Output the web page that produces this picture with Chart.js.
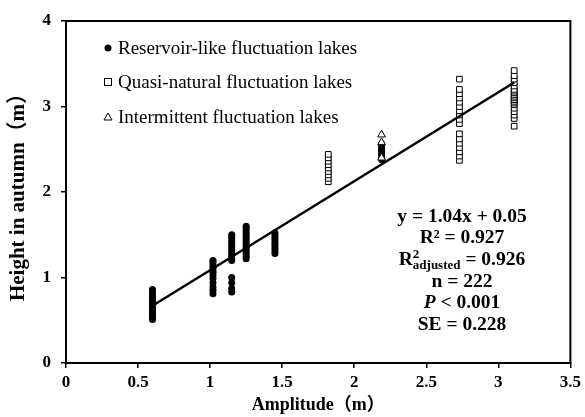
<!DOCTYPE html>
<html>
<head>
<meta charset="utf-8">
<script src="https://cdn.jsdelivr.net/npm/chart.js@4.4.1/dist/chart.umd.min.js"></script>
<style>
  html, body { margin: 0; padding: 0; background: #fff; }
  #wrap { width: 585px; height: 417px; }
</style>
</head>
<body>
<div id="wrap"><canvas id="chart"></canvas></div>
<script>
// Reservoir-like lakes: amplitude groups and heights
const reservoirAmplitude = [0.6, 1.02, 1.15, 1.25, 1.45, 2.19];
const reservoirHeight = [
  [0.51, 0.53, 0.55, 0.57, 0.59, 0.61, 0.63, 0.65, 0.68, 0.71, 0.74, 0.77, 0.8, 0.83, 0.86],
  [0.81, 0.85, 0.89, 0.94, 0.99, 1.03, 1.06, 1.09, 1.12, 1.15, 1.18, 1.2],
  [0.83, 0.87, 0.94, 1.0, 1.2, 1.23, 1.26, 1.29, 1.32, 1.35, 1.38, 1.41, 1.44, 1.47, 1.5],
  [1.22, 1.25, 1.28, 1.31, 1.34, 1.37, 1.4, 1.43, 1.46, 1.49, 1.52, 1.55, 1.58, 1.6],
  [1.28, 1.31, 1.34, 1.37, 1.4, 1.43, 1.46, 1.49, 1.52],
  [2.38, 2.41, 2.44, 2.47, 2.5, 2.53, 2.56]
];

// Quasi-natural lakes
const quasiAmplitude = [1.82, 2.73, 3.11];
const quasiHeight = [
  [2.12, 2.16, 2.2, 2.24, 2.28, 2.32, 2.36, 2.4, 2.44],
  [2.37, 2.42, 2.47, 2.52, 2.57, 2.62, 2.68, 2.8, 2.85, 2.9, 2.95, 3.0, 3.05, 3.1, 3.15, 3.2, 3.32],
  [2.77, 2.86, 2.9, 2.94, 2.98, 3.02, 3.04, 3.06, 3.08, 3.1, 3.12, 3.14, 3.16, 3.18, 3.2, 3.24, 3.28, 3.32, 3.36, 3.42]
];

// Intermittent lakes
const intermittentAmplitude = [2.19];
const intermittentHeight = [[2.4, 2.58, 2.67]];

// Fitted line end points (y = 1.04x + 0.05 over the data range)
const fitX = [0.6, 3.11];
const fitY = [0.67, 3.28];

const xTicks = [0, 0.5, 1, 1.5, 2, 2.5, 3, 3.5];
const yTicks = [0, 1, 2, 3, 4];

const seriesNames = [
  "Reservoir-like fluctuation lakes",
  "Quasi-natural fluctuation lakes",
  "Intermittent fluctuation lakes"
];

const statLines = ["y = 1.04x + 0.05", "R² = 0.927", "adjusted", "n = 222", "P", "SE = 0.228"];

const SERIF = '"Liberation Serif", "Times New Roman", "Noto Sans CJK SC", serif';

function toPoints(xs, ys) {
  const pts = [];
  xs.forEach((x, i) => ys[i].forEach(y => pts.push({ x: x, y: y })));
  return pts;
}

// draws the in-plot legend and the statistics block
const overlayPlugin = {
  id: "overlay",
  afterDraw(chart) {
    const ctx = chart.ctx;
    const area = chart.chartArea;
    ctx.save();

    // frame on top and right
    ctx.strokeStyle = "#000";
    ctx.lineWidth = 2;
    ctx.beginPath();
    ctx.moveTo(area.left, area.top);
    ctx.lineTo(area.right, area.top);
    ctx.lineTo(area.right, area.bottom);
    ctx.stroke();

    // legend
    const rows = [27, 61, 96];
    const mx = area.left + 42;
    ctx.font = "19px " + SERIF;
    ctx.textBaseline = "middle";
    ctx.fillStyle = "#000";
    ctx.lineWidth = 1;
    rows.forEach((dy, i) => {
      const y = area.top + dy;
      ctx.beginPath();
      if (i === 0) {
        ctx.arc(mx, y, 3.5, 0, Math.PI * 2);
        ctx.fill();
      } else if (i === 1) {
        ctx.strokeRect(mx - 3.5, y - 3.5, 7, 7);
      } else {
        ctx.moveTo(mx, y - 4);
        ctx.lineTo(mx + 4, y + 3);
        ctx.lineTo(mx - 4, y + 3);
        ctx.closePath();
        ctx.stroke();
      }
      ctx.textAlign = "left";
      ctx.fillText(seriesNames[i], mx + 10, y + 1);
    });

    // statistics
    const cx = area.left + 396;
    const lineY = [196, 217, 239, 261, 282, 304].map(d => area.top + d);
    const bold = "bold 19.5px " + SERIF;
    ctx.font = bold;
    ctx.textAlign = "center";
    ctx.fillText(statLines[0], cx, lineY[0]);
    ctx.fillText(statLines[1], cx, lineY[1]);
    ctx.fillText(statLines[3], cx, lineY[3]);
    ctx.fillText(statLines[5], cx, lineY[5]);

    // R²adjusted = 0.926
    ctx.textAlign = "left";
    const small = "bold 13px " + SERIF;
    ctx.font = bold;
    const wR = ctx.measureText("R").width;
    const wTail = ctx.measureText(" = 0.926").width;
    ctx.font = small;
    const wSup = ctx.measureText("2").width;
    const wSub = ctx.measureText(statLines[2]).width;
    let x = cx - (wR + wSub + wTail) / 2;
    const y2 = lineY[2];
    ctx.font = bold;
    ctx.fillText("R", x, y2);
    ctx.font = small;
    ctx.fillText("2", x + wR, y2 - 5);
    ctx.fillText(statLines[2], x + wR, y2 + 6);
    ctx.font = bold;
    ctx.fillText(" = 0.926", x + wR + Math.max(wSup, wSub), y2);

    // P < 0.001
    const ital = "italic bold 19.5px " + SERIF;
    ctx.font = ital;
    const wP = ctx.measureText("P").width;
    ctx.font = bold;
    const wRest = ctx.measureText(" < 0.001").width;
    x = cx - (wP + wRest) / 2;
    ctx.font = ital;
    ctx.fillText("P", x, lineY[4]);
    ctx.font = bold;
    ctx.fillText(" < 0.001", x + wP, lineY[4]);

    ctx.restore();
  }
};

new Chart(document.getElementById("chart"), {
  type: "scatter",
  data: {
    datasets: [
      {
        type: "line",
        label: "fit",
        data: fitX.map((x, i) => ({ x: x, y: fitY[i] })),
        borderColor: "#000",
        borderWidth: 2.5,
        pointRadius: 0,
        fill: false,
        order: 0
      },
      {
        label: seriesNames[0],
        data: toPoints(reservoirAmplitude, reservoirHeight),
        pointStyle: "circle",
        pointRadius: 3.5,
        backgroundColor: "#000",
        borderColor: "#000",
        borderWidth: 0,
        order: 2
      },
      {
        label: seriesNames[1],
        data: toPoints(quasiAmplitude, quasiHeight),
        pointStyle: "rect",
        pointRadius: 4,
        backgroundColor: "#fff",
        borderColor: "#000",
        borderWidth: 1,
        order: 1
      },
      {
        label: seriesNames[2],
        data: toPoints(intermittentAmplitude, intermittentHeight),
        pointStyle: "triangle",
        pointRadius: 4.5,
        backgroundColor: "#fff",
        borderColor: "#000",
        borderWidth: 1,
        order: 1
      }
    ]
  },
  options: {
    responsive: true,
    maintainAspectRatio: false,
    animation: false,
    layout: { padding: { top: 21, right: 13, left: 0, bottom: 0 } },
    plugins: {
      legend: { display: false },
      tooltip: { enabled: false }
    },
    scales: {
      x: {
        type: "linear",
        min: xTicks[0],
        max: xTicks[xTicks.length - 1],
        afterBuildTicks: s => { s.ticks = xTicks.map(v => ({ value: v })); },
        afterFit: s => { s.height = 54; },
        ticks: {
          color: "#000",
          font: { family: SERIF, size: 17, weight: "bold" },
          padding: 4,
          callback: v => String(v)
        },
        grid: { drawOnChartArea: false, tickLength: 5, color: "#000", lineWidth: 1.5 },
        border: { color: "#000", width: 2 },
        title: {
          display: true,
          text: "Amplitude（m）",
          color: "#000",
          font: { family: SERIF, size: 18, weight: "bold" },
          padding: { top: 0, bottom: 1 }
        }
      },
      y: {
        type: "linear",
        min: yTicks[0],
        max: yTicks[yTicks.length - 1],
        afterBuildTicks: s => { s.ticks = yTicks.map(v => ({ value: v })); },
        afterFit: s => { s.width = 66; },
        ticks: {
          color: "#000",
          font: { family: SERIF, size: 17, weight: "bold" },
          padding: 10,
          callback: v => String(v)
        },
        grid: { drawOnChartArea: false, tickLength: 5, color: "#000", lineWidth: 1.5 },
        border: { color: "#000", width: 2 },
        title: {
          display: true,
          text: "Height in autumn（m）",
          color: "#000",
          font: { family: SERIF, size: 21, weight: "bold" },
          padding: { top: 6, bottom: 0 }
        }
      }
    }
  },
  plugins: [overlayPlugin]
});
</script>
</body>
</html>
